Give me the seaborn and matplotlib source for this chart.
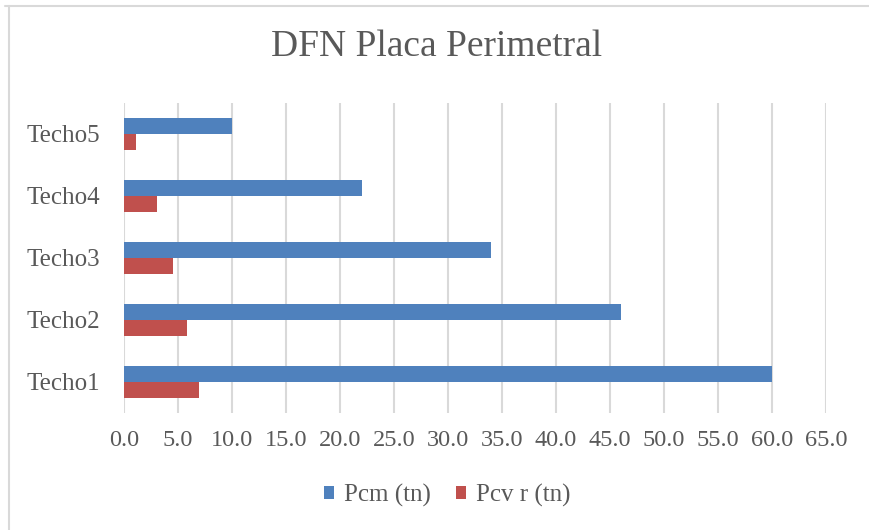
import matplotlib
matplotlib.use("Agg")
import matplotlib.pyplot as plt
from matplotlib.lines import Line2D
from matplotlib.patches import Patch
import seaborn as sns
import pandas as pd

categories = ["Techo1", "Techo2", "Techo3", "Techo4", "Techo5"]
pcm = [60.0, 46.0, 34.0, 22.0, 10.0]
pcv = [6.9, 5.8, 4.5, 3.1, 1.1]
series_names = ["Pcm (tn)", "Pcv r (tn)"]
xticks = [0, 5, 10, 15, 20, 25, 30, 35, 40, 45, 50, 55, 60, 65]

df = pd.DataFrame({
    "cat": categories * 2,
    "val": pcm + pcv,
    "serie": [series_names[0]] * 5 + [series_names[1]] * 5,
})

sns.set_theme(style="white")
plt.rcParams["font.family"] = ["Liberation Serif", "DejaVu Serif"]
txt = "#595959"
colors = {"Pcm (tn)": "#4f81bd", "Pcv r (tn)": "#c0504d"}

fig = plt.figure(figsize=(8.69, 5.30), dpi=100)
ax = fig.add_axes([124 / 869, 1 - 413 / 530, (826 - 124) / 869, (413 - 103) / 530])

sns.barplot(data=df, y="cat", x="val", hue="serie", order=categories[::-1],
            hue_order=series_names, palette=colors, orient="h", width=0.52,
            saturation=1, linewidth=0, ax=ax, legend=False)

ax.set_xlim(0, 65)
ax.set_xticks(xticks)
ax.set_xticklabels([f"{v:.1f}" for v in xticks], fontsize=17.5, color=txt)
ax.tick_params(axis="y", labelsize=18, labelcolor=txt, length=0, pad=17)
ax.tick_params(axis="x", length=0, pad=12)
ax.set_xlabel("")
ax.set_ylabel("")
ax.xaxis.grid(True, color="#d9d9d9", linewidth=1.5)
ax.set_axisbelow(True)
for s in ax.spines.values():
    s.set_visible(False)

fig.text(437 / 869, 1 - 47 / 530, "DFN Placa Perimetral", ha="center", va="center",
         fontsize=27, color=txt)

handles = [Patch(facecolor=colors[n], edgecolor="none") for n in series_names]
fig.legend(handles, series_names, loc="center", bbox_to_anchor=(447 / 869, 1 - 495 / 530),
           ncol=2, frameon=False, fontsize=18, labelcolor=txt,
           handlelength=0.4, handleheight=0.4, handletextpad=0.4, columnspacing=1.0)

# chart area border (top and left edges)
fig.add_artist(Line2D([5 / 869, 1], [1 - 6 / 530, 1 - 6 / 530], color="#d9d9d9", linewidth=1.5,
                      transform=fig.transFigure))
fig.add_artist(Line2D([9 / 869, 9 / 869], [0, 1 - 6 / 530], color="#d9d9d9", linewidth=1.5,
                      transform=fig.transFigure))

fig.savefig("out.png", dpi=100)
